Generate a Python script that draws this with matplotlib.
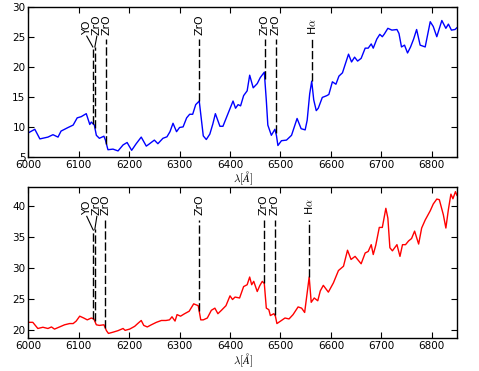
import numpy as np
import matplotlib
matplotlib.use("Agg")
import matplotlib.pyplot as plt

plt.rcParams["mathtext.fontset"] = "cm"
plt.rcParams["font.size"] = 7.5

# ── Traced spectra (wavelength in Angstrom, flux) ──
wl_top = [6000, 6013, 6023, 6039, 6049, 6059, 6065, 6079, 6089, 6097, 6105,
          6115, 6122, 6125, 6131, 6135, 6141, 6150, 6153, 6158, 6168, 6178,
          6188, 6196, 6205, 6214, 6224, 6234, 6239, 6250, 6257, 6267, 6275,
          6281, 6287, 6294, 6300, 6307, 6314, 6320, 6326, 6332, 6339, 6347,
          6353, 6360, 6366, 6371, 6380, 6386, 6396, 6406, 6411, 6416, 6421,
          6427, 6434, 6439, 6446, 6454, 6460, 6468, 6472, 6475, 6482, 6489,
          6492, 6495, 6502, 6512, 6522, 6533, 6541, 6549, 6553, 6558, 6562,
          6566, 6571, 6575, 6583, 6592, 6596, 6603, 6610, 6616, 6623, 6628,
          6635, 6641, 6647, 6653, 6660, 6668, 6674, 6680, 6684, 6691, 6697,
          6702, 6706, 6713, 6721, 6731, 6735, 6740, 6746, 6752, 6758, 6764,
          6770, 6777, 6787, 6797, 6803, 6810, 6820, 6828, 6833, 6839, 6846,
          6850]
flux_top = [9.0, 9.6, 8.0, 8.3, 8.7, 8.3, 9.3, 9.9, 10.3, 11.5, 11.7,
            12.2, 10.4, 10.8, 10.3, 8.6, 8.1, 8.45, 7.8, 6.2, 6.3, 6.0,
            7.0, 7.4, 6.1, 7.2, 8.3, 6.8, 7.1, 7.8, 7.2, 8.1, 8.35,
            9.2, 10.6, 9.2, 9.9, 10.0, 11.5, 12.1, 12.1, 13.7, 14.3, 8.5,
            7.9, 8.8, 10.5, 12.2, 10.1, 10.1, 12.2, 14.3, 13.1, 13.7, 13.5,
            15.2, 16.0, 18.6, 16.5, 17.2, 18.2, 19.1, 14.4, 10.3, 8.6, 9.6,
            8.6, 6.9, 7.7, 7.8, 8.6, 11.4, 9.7, 9.5, 11.1, 15.5, 17.6,
            14.5, 12.7, 13.1, 14.9, 15.2, 15.4, 17.5, 17.1, 18.45, 19.0, 20.3,
            22.1, 20.8, 21.6, 20.95, 21.4, 23.1, 23.1, 23.8, 23.1, 24.6, 25.4,
            25.0, 25.45, 26.4, 26.1, 26.2, 25.55, 23.3, 23.6, 22.3, 23.3, 24.6,
            26.2, 23.6, 23.3, 27.5, 26.7, 25.0, 27.7, 26.4, 27.1, 26.1, 26.2,
            26.5]

wl_bot = [6000, 6009, 6019, 6029, 6039, 6046, 6052, 6062, 6072, 6082, 6089,
          6095, 6102, 6110, 6117, 6125, 6130, 6135, 6141, 6150, 6155, 6159,
          6168, 6178, 6188, 6192, 6201, 6211, 6217, 6224, 6229, 6236, 6244,
          6254, 6264, 6273, 6280, 6285, 6291, 6295, 6302, 6310, 6319, 6328,
          6337, 6342, 6347, 6355, 6363, 6370, 6376, 6383, 6392, 6400, 6405,
          6410, 6419, 6427, 6434, 6439, 6443, 6447, 6454, 6459, 6464, 6468,
          6472, 6477, 6480, 6487, 6490, 6493, 6502, 6509, 6517, 6525, 6535,
          6542, 6548, 6557, 6561, 6567, 6574, 6579, 6585, 6595, 6605, 6615,
          6625, 6633, 6640, 6648, 6660, 6668, 6674, 6680, 6684, 6689, 6696,
          6702, 6709, 6713, 6717, 6722, 6731, 6737, 6742, 6748, 6754, 6760,
          6766, 6774, 6780, 6787, 6797, 6803, 6810, 6815, 6823, 6828, 6833,
          6838, 6842, 6847, 6850]
flux_bot = [21.2, 21.2, 20.2, 20.4, 20.2, 20.45, 20.1, 20.45, 20.8, 21.0, 21.0,
            21.4, 22.2, 21.9, 21.6, 21.9, 21.75, 20.8, 20.7, 20.8, 19.85, 19.4,
            19.6, 19.85, 20.2, 19.9, 20.1, 20.55, 21.0, 21.5, 20.7, 20.45, 20.8,
            21.2, 21.5, 21.5, 21.6, 22.1, 21.4, 22.45, 22.2, 22.6, 23.0, 24.2,
            23.9, 21.6, 21.6, 21.9, 23.15, 23.5, 22.6, 23.15, 23.9, 25.5, 24.9,
            25.3, 25.15, 27.0, 27.3, 28.55, 27.3, 27.85, 26.2, 27.15, 27.85, 27.5,
            23.5, 23.25, 22.3, 22.6, 22.2, 21.0, 21.5, 21.9, 21.75, 22.45, 23.7,
            23.5, 22.8, 28.55, 24.45, 25.15, 24.7, 26.3, 27.2, 26.1, 27.6, 29.6,
            30.3, 32.9, 31.4, 31.9, 30.7, 32.45, 32.7, 33.8, 32.2, 33.7, 36.6,
            36.6, 39.7, 38.1, 33.3, 32.8, 33.8, 31.9, 33.8, 33.8, 34.4, 34.8,
            36.0, 33.9, 36.5, 37.8, 39.3, 40.4, 41.2, 41.1, 38.65, 36.5, 39.5,
            42.0, 41.25, 42.4, 41.8]

# ── Line identifications ──
line_names = ["YO", "ZrO", "ZrO", "ZrO", "ZrO", "ZrO", r"H$\alpha$"]
line_wl_top = [6128, 6132, 6155, 6339, 6469, 6491, 6562]
line_wl_bot = [6128, 6132, 6153, 6339, 6467, 6489, 6557]
label_wl = [6116, 6136, 6155, 6339, 6469, 6491, 6562]
crowded = [True, True, False, False, False, False, False]


def mark_lines(ax, wl, flux, line_wl, y_top, y_crowd, y_text):
    for name, lw_, lab, crowd in zip(line_names, line_wl, label_wl, crowded):
        yb = np.interp(lw_, wl, flux)
        ytop = y_crowd if crowd else y_top
        ax.plot([lw_, lw_], [yb, ytop], color="k", ls="--", dashes=(6, 2),
                lw=1)
        if crowd:
            ax.plot([lw_, lab], [ytop, y_text - 0.2], color="k", lw=0.8)
            xt = lab
        else:
            xt = lw_
        ax.text(xt, y_text, name, rotation=90, ha="center", va="bottom",
                fontsize=7.8)


fig = plt.figure(figsize=(4.79, 3.71), dpi=100)
ax1 = fig.add_axes([0.059, 0.577, 0.895, 0.405])
ax2 = fig.add_axes([0.059, 0.088, 0.895, 0.407])

ax1.plot(wl_top, flux_top, color="blue", lw=1)
ax2.plot(wl_bot, flux_bot, color="red", lw=1)

mark_lines(ax1, wl_top, flux_top, line_wl_top, 24.6, 23.3, 25.3)
mark_lines(ax2, wl_bot, flux_bot, line_wl_bot, 37.8, 36.3, 38.6)

ax1.set_ylim(5, 30)
ax1.set_yticks([5, 10, 15, 20, 25, 30])
ax2.set_ylim(18.6, 43.1)
ax2.set_yticks([20, 25, 30, 35, 40])

for ax in (ax1, ax2):
    ax.set_xlim(6000, 6850)
    ax.set_xticks([6000, 6100, 6200, 6300, 6400, 6500, 6600, 6700, 6800])
    ax.tick_params(direction="in", top=True, right=True, length=4,
                   width=0.8, labelsize=7.5, pad=2)
    ax.set_xlabel(r"$\lambda[\AA]$", fontsize=8, labelpad=0)
    for s in ax.spines.values():
        s.set_linewidth(1)

fig.savefig("out.png", dpi=100)
